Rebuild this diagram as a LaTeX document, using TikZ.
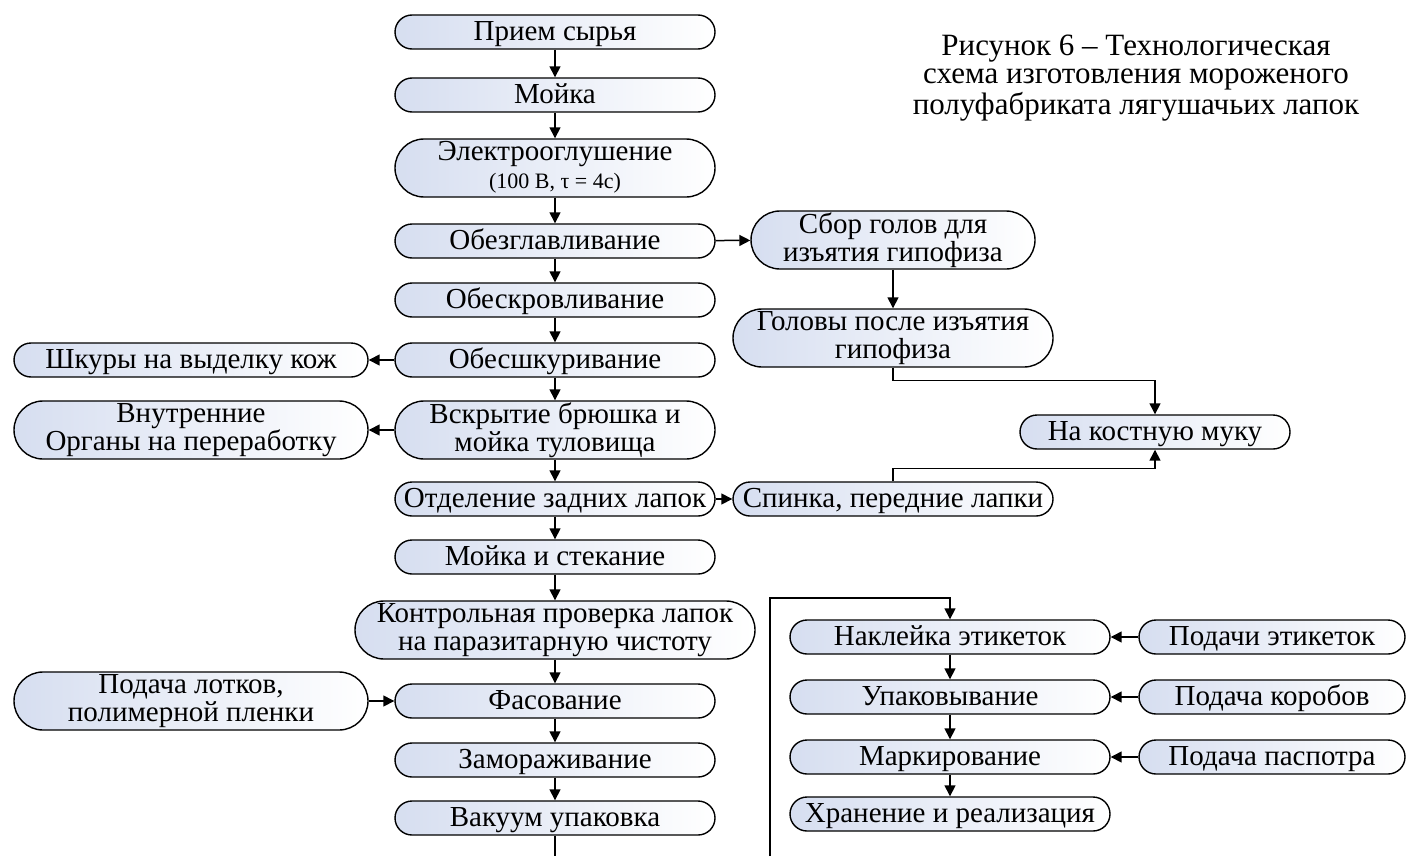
\documentclass[tikz,border=0pt]{standalone}
\usepackage{fontspec}
\setmainfont{Liberation Serif}
\usetikzlibrary{arrows.meta,positioning}
\definecolor{boxfill}{RGB}{214,222,240}
\newcommand{\boxstrut}{\rule[-3pt]{0pt}{14.5pt}}

\begin{document}
\begin{tikzpicture}[x=0.5pt,y=-0.5pt,>={Triangle[length=5.5pt,width=5.5pt]},
  box/.style={draw,line width=0.7pt,rounded corners=8.5pt,minimum width=160pt,minimum height=17pt,
    inner sep=0pt,left color=boxfill,right color=white,align=center,
    font=\fontsize{14.5}{14}\selectfont,execute at begin node=\boxstrut},
  tall/.style={box,rounded corners=14.5pt,minimum height=29pt},
  link/.style={->,line width=0.75pt}]
  \useasboundingbox (0,0) rectangle (1407,856);
  % main line
  \node[box] (priem) at (555,32) {Прием сырья};
  \node[box] (mojka) at (555,95) {Мойка};
  \node[tall] (elektro) at (555,168) {Электрооглушение\\{\fontsize{11}{12}\selectfont (100 В, τ = 4с)}};
  \node[box] (obezgl) at (555,241) {Обезглавливание};
  \node[box] (obeskr) at (555,300) {Обескровливание};
  \node[box] (obessh) at (555,360) {Обесшкуривание};
  \node[tall] (vskr) at (555,430) {Вскрытие брюшка и\\мойка туловища};
  \node[box] (otdel) at (555,499) {Отделение задних лапок};
  \node[box] (mojka2) at (555,557) {Мойка и стекание};
  \node[tall,minimum width=200pt] (kontrol) at (555,630) {Контрольная проверка лапок\\на паразитарную чистоту};
  \node[box] (fas) at (555,701) {Фасование};
  \node[box] (zamor) at (555,760) {Замораживание};
  \node[box] (vakuum) at (555,818) {Вакуум упаковка};
  % heads and backs
  \node[tall,minimum width=142pt] (sbor) at (893,240) {Сбор голов для\\изъятия гипофиза};
  \node[tall] (golovy) at (893,338) {Головы после изъятия\\гипофиза};
  \node[box,minimum width=135pt] (muka) at (1155,432) {На костную муку};
  \node[box] (spinka) at (893,499) {Спинка, передние лапки};
  % left side
  \node[box,minimum width=177pt] (shkury) at (191,360) {Шкуры на выделку кож};
  \node[tall,minimum width=177pt] (organy) at (191,430) {Внутренние\\Органы на переработку};
  \node[tall,minimum width=177pt] (lotki) at (191,701) {Подача лотков,\\полимерной пленки};
  % packing line
  \node[box] (nakl) at (950,637) {Наклейка этикеток};
  \node[box] (upak) at (950,697) {Упаковывание};
  \node[box] (mark) at (950,757) {Маркирование};
  \node[box] (hran) at (950,814) {Хранение и реализация};
  \node[box,minimum width=133pt] (etik) at (1272,637) {Подачи этикеток};
  \node[box,minimum width=133pt] (korob) at (1272,697) {Подача коробов};
  \node[box,minimum width=133pt] (pasp) at (1272,757) {Подача паспотра};
  % caption
  \node[align=center,font=\fontsize{15.5}{14.2}\selectfont] (title) at (1136,78)
    {Рисунок 6 – Технологическая\\схема изготовления мороженого\\полуфабриката лягушачьих лапок};
  \coordinate (cut1) at (555,856);
  \coordinate (cut2) at (770,856);
  \coordinate (turn) at (770,598);

  \foreach \a/\b in {priem/mojka,mojka/elektro,elektro/obezgl,obezgl/obeskr,obeskr/obessh,
    obessh/vskr,vskr/otdel,otdel/mojka2,mojka2/kontrol,kontrol/fas,fas/zamor,zamor/vakuum,
    nakl/upak,upak/mark,mark/hran}
    \draw[link] (\a) -- (\b);
  \foreach \a/\b in {obezgl/sbor,sbor/golovy,otdel/spinka,obessh/shkury,vskr/organy,
    lotki/fas,etik/nakl,korob/upak,pasp/mark}
    \draw[link] (\a) -- (\b);
  \draw[link] (golovy.south) -- ++(0,13) -| (muka.north);
  \draw[link] (spinka.north) -- ++(0,-13) -| (muka.south);
  \draw[line width=0.75pt] (vakuum) -- (cut1);
  \draw[link] (cut2) -- (turn) -| (nakl.north);
\end{tikzpicture}
\end{document}
